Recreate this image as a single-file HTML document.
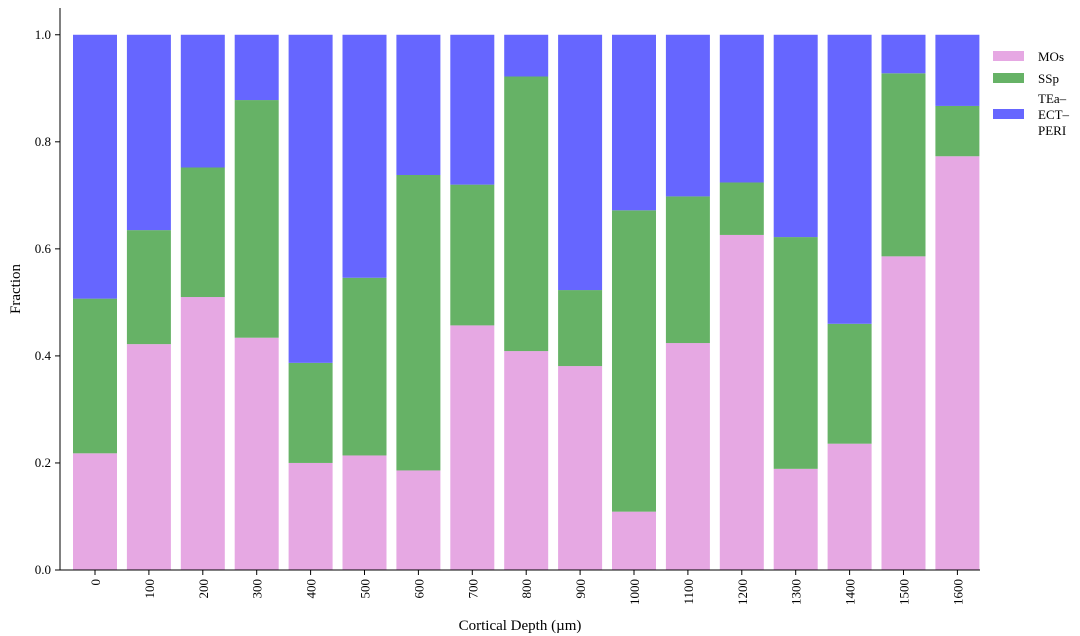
<!DOCTYPE html>
<html><head><meta charset="utf-8"><style>
body{margin:0;background:#fff;}
svg{display:block;font-family:"Liberation Serif",serif;}
</style></head><body>
<svg id="chart" width="1080" height="636" viewBox="0 0 1080 636" xmlns="http://www.w3.org/2000/svg"></svg>
<script>
const categories=["0","100","200","300","400","500","600","700","800","900","1000","1100","1200","1300","1400","1500","1600"];
const mosValues=[0.218,0.422,0.510,0.434,0.200,0.214,0.186,0.457,0.409,0.381,0.109,0.424,0.626,0.189,0.236,0.586,0.773];
const sspValues=[0.289,0.213,0.242,0.444,0.187,0.332,0.552,0.263,0.513,0.142,0.563,0.274,0.098,0.433,0.224,0.342,0.094];
const teaValues=mosValues.map((m,i)=>1-m-sspValues[i]);
const yTicks=[0,0.2,0.4,0.6,0.8,1.0];
const seriesNames=["MOs","SSp","TEa–ECT–PERI"];
const colors=["#e6a8e3","#66b266","#6666ff"];

const NS="http://www.w3.org/2000/svg";
const svg=document.getElementById('chart');
function mk(t,a,p){const e=document.createElementNS(NS,t);for(const k in a)e.setAttribute(k,a[k]);(p||svg).appendChild(e);return e;}
const x0=60,x1=980,yB=570,yT=8;
const yMax=1.05;
const y=v=>yB-v/yMax*(yB-yT);
const step=53.9;
const x=i=>95+i*step;
const bw=44;
const series=[mosValues,sspValues,teaValues];
categories.forEach((c,i)=>{
  let base=0;
  series.forEach((s,k)=>{
    const r=mk('rect',{x:x(i)-bw/2,y:y(base+s[i]),width:bw,height:y(base)-y(base+s[i]),fill:colors[k]});
    
    
    base+=s[i];
  });
  const tk=mk('line',{x1:x(i),x2:x(i),y1:yB,y2:yB+5,stroke:'#000'});
  
  
  const t=mk('text',{transform:`translate(${x(i)+5},${yB+9}) rotate(-90)`,'text-anchor':'end','font-size':13});
  t.textContent=c;
  
  
});
yTicks.forEach(v=>{
  const tk=mk('line',{x1:x0-5,x2:x0,y1:y(v),y2:y(v),stroke:'#000'});
  
  
  const t=mk('text',{x:x0-9,y:y(v)+4,'text-anchor':'end','font-size':13});
  t.textContent=v.toFixed(1);
  
  
});
const ya=mk('line',{x1:x0,x2:x0,y1:yT,y2:yB,stroke:'#000'});


const xa=mk('line',{x1:x0,x2:x1,y1:yB,y2:yB,stroke:'#000'});


const xt=mk('text',{x:520,y:630,'text-anchor':'middle','font-size':15});
xt.textContent='Cortical Depth (µm)';


const yt=mk('text',{transform:'translate(20,289) rotate(-90)','text-anchor':'middle','font-size':15});
yt.textContent='Fraction';


const legY=[56,78,114];
const legLabels=[["MOs"],["SSp"],["TEa–","ECT–","PERI"]];
seriesNames.forEach((n,k)=>{
  const g=mk('g',{});
  
  
  mk('rect',{x:993,y:legY[k]-5,width:31,height:10,fill:colors[k]},g);
  const lines=legLabels[k];
  lines.forEach((l,j)=>{
    const t=mk('text',{x:1038,y:legY[k]+5+(j-(lines.length-1)/2)*16,'font-size':13},g);
    t.textContent=l;
  });
});
</script>
</body></html>
